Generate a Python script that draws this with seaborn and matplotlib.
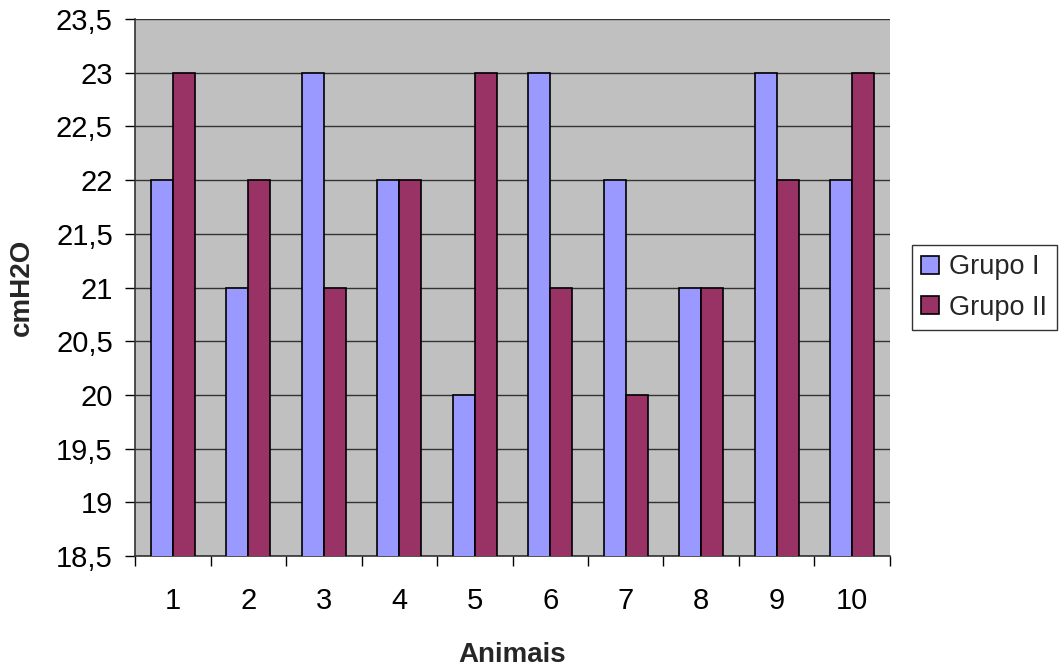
import matplotlib
matplotlib.use("Agg")
import matplotlib.pyplot as plt
import seaborn as sns
import pandas as pd
import numpy as np
from matplotlib.ticker import FuncFormatter, MultipleLocator, FixedLocator

animais = ["1", "2", "3", "4", "5", "6", "7", "8", "9", "10"]
grupo_i = [22, 21, 23, 22, 20, 23, 22, 21, 23, 22]
grupo_ii = [23, 22, 21, 22, 23, 21, 20, 21, 22, 23]
series_names = ["Grupo I", "Grupo II"]
colors = ["#9999FF", "#993366"]

df = pd.DataFrame({
    "Animais": animais * 2,
    "cmH2O": grupo_i + grupo_ii,
    "Grupo": [series_names[0]] * len(animais) + [series_names[1]] * len(animais),
})

sns.set_theme(style="white")
plt.rcParams["font.family"] = ["Liberation Sans", "DejaVu Sans"]

fig = plt.figure(figsize=(10.59, 6.67), dpi=100)
ax = fig.add_axes([0.1275, 0.1664, 0.8404 - 0.1275, 0.9715 - 0.1664])
ax.set_facecolor("#C0C0C0")

sns.barplot(data=df, x="Animais", y="cmH2O", hue="Grupo", palette=colors,
            saturation=1, width=0.58, edgecolor="black", linewidth=1.2, ax=ax,
            zorder=3, legend=True)

ax.set_ylim(18.5, 23.5)
ax.set_xlim(-0.5, len(animais) - 0.5)
ax.yaxis.set_major_locator(MultipleLocator(0.5))
ax.yaxis.set_major_formatter(FuncFormatter(lambda v, p: (f"{v:g}").replace(".", ",")))
ax.grid(axis="y", color="#333333", linewidth=1.0, zorder=0)
ax.set_axisbelow(True)

ax.xaxis.set_minor_locator(FixedLocator(np.arange(-0.5, len(animais), 1.0)))
ax.tick_params(axis="x", which="major", length=0, pad=22, labelsize=21, colors="black")
ax.tick_params(axis="x", which="minor", length=7, width=1, direction="out", color="black", bottom=True)
ax.tick_params(axis="y", which="major", length=7, width=1, direction="out", color="black",
               left=True, labelsize=21, labelcolor="black", pad=9)

for s in ["top", "right"]:
    ax.spines[s].set_visible(False)
for s in ["left", "bottom"]:
    ax.spines[s].set_visible(True)
    ax.spines[s].set_color("#333333")
    ax.spines[s].set_linewidth(1.2)

ax.set_xlabel("Animais", fontsize=20, fontweight="bold", labelpad=20)
ax.set_ylabel("cmH2O", fontsize=20, fontweight="bold", labelpad=15)

leg = ax.legend(loc="center left", bbox_to_anchor=(1.029, 0.5), fontsize=19.5,
                frameon=True, fancybox=False, edgecolor="#333333", framealpha=1,
                handlelength=0.65, handleheight=0.65, handletextpad=0.38,
                borderpad=0.35, labelspacing=0.55, borderaxespad=0)
leg.get_frame().set_linewidth(1.0)

fig.savefig("out.png", dpi=100)
